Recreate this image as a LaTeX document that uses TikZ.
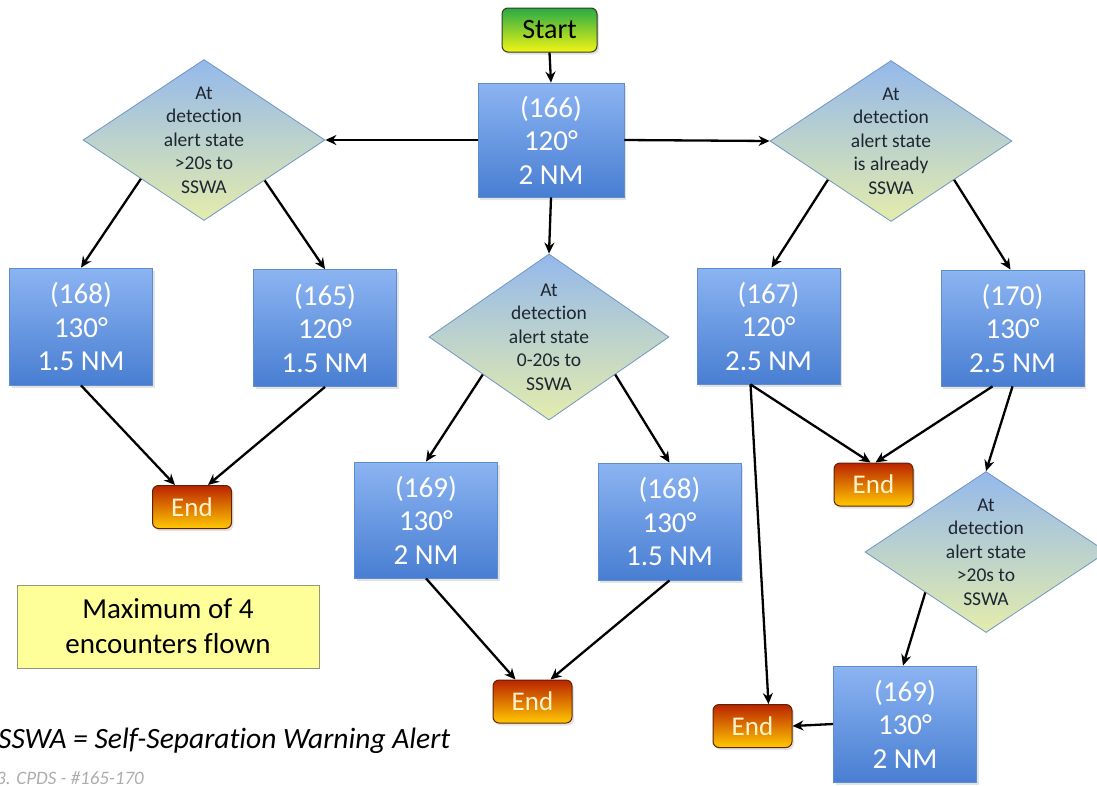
\documentclass[tikz,border=0pt]{standalone}
\usepackage{fontspec}
\setmainfont{Carlito}[Ligatures=NoCommon]
\usetikzlibrary{shapes.geometric,arrows.meta,calc,shadows}

\definecolor{boxtop}{RGB}{140,180,242}
\definecolor{boxbot}{RGB}{72,126,210}
\definecolor{boxedge}{RGB}{95,140,205}
\definecolor{diatop}{RGB}{148,184,236}
\definecolor{diabot}{RGB}{228,236,172}
\definecolor{diaedge}{RGB}{112,150,198}
\definecolor{endtop}{RGB}{186,36,0}
\definecolor{endbot}{RGB}{255,200,0}
\definecolor{endedge}{RGB}{95,35,5}
\definecolor{endtext}{RGB}{255,242,205}
\definecolor{starttop}{RGB}{40,170,70}
\definecolor{startbot}{RGB}{240,245,20}
\definecolor{startedge}{RGB}{50,60,30}
\definecolor{notefill}{RGB}{255,255,153}
\definecolor{notedge}{RGB}{150,150,120}
\definecolor{diatext}{RGB}{30,38,50}

\tikzset{
  bluebox/.style={rectangle, minimum width=143pt, minimum height=116pt, inner sep=0pt,
    top color=boxtop, bottom color=boxbot, draw=boxedge, line width=0.8pt,
    text=white, align=center, font=\fontsize{29}{33.5}\selectfont,
    drop shadow={opacity=0.22, shadow xshift=2pt, shadow yshift=-2.5pt}},
  decision/.style={diamond, minimum width=242pt, minimum height=161pt, inner sep=0pt,
    top color=diatop, bottom color=diabot, draw=diaedge, line width=0.8pt},
  decisiontext/.style={align=center, text=diatext, inner sep=0pt,
    font=\fontsize{19.5}{23.5}\selectfont},
  endbox/.style={rectangle, rounded corners=6pt, minimum width=79pt, minimum height=43pt,
    inner sep=0pt, top color=endtop, bottom color=endbot, draw=endedge, line width=1pt,
    text=endtext, font=\fontsize{27}{30}\selectfont,
    drop shadow={opacity=0.22, shadow xshift=2pt, shadow yshift=-2.5pt}},
  startbox/.style={rectangle, rounded corners=6pt, minimum width=95pt, minimum height=44pt,
    inner sep=0pt, top color=starttop, bottom color=startbot, draw=startedge, line width=1pt,
    text=black, font=\fontsize{28}{30}\selectfont,
    drop shadow={opacity=0.22, shadow xshift=2pt, shadow yshift=-2.5pt}},
  notebox/.style={rectangle, minimum width=302pt, minimum height=83pt, inner sep=0pt,
    fill=notefill, draw=notedge, line width=0.8pt, align=center,
    font=\fontsize{29}{35}\selectfont},
  arr/.style={-{Stealth[length=11pt,width=10pt]}, line width=2.3pt, black}
}

\begin{document}
\begin{tikzpicture}[x=1pt,y=-1pt]
\useasboundingbox (0,0) rectangle (1097,785);

% start and first setting
\node[startbox] (start) at (549.5,30) {Start};
\node[bluebox, minimum width=146pt, minimum height=114pt] (b166) at (551,140) {(166)\\120°\\2 NM};

% decisions
\node[decision] (d1) at (204,140) {};
\node[decisiontext] at (d1) {At\\detection\\alert state\\>20s to\\SSWA};
\node[decision, minimum width=240pt, minimum height=166pt] (d2) at (549,337) {};
\node[decisiontext] at (d2) {At\\detection\\alert state\\0-20s to\\SSWA};
\node[decision] (d3) at (891,141) {};
\node[decisiontext] at (d3) {At\\detection\\alert state\\is already\\SSWA};
\node[decision] (d4) at (986,552) {};
\node[decisiontext] at (d4) {At\\detection\\alert state\\>20s to\\SSWA};

% encounter settings
\node[bluebox, minimum height=117pt] (b168a) at (81,326.5) {(168)\\130°\\1.5 NM};
\node[bluebox, minimum height=117pt] (b165) at (325,328) {(165)\\120°\\1.5 NM};
\node[bluebox] (b169a) at (426,520) {(169)\\130°\\2 NM};
\node[bluebox, minimum height=117pt] (b168b) at (669.5,521.5) {(168)\\130°\\1.5 NM};
\node[bluebox] (b167) at (768.5,326) {(167)\\120°\\2.5 NM};
\node[bluebox] (b170) at (1012.5,328) {(170)\\130°\\2.5 NM};
\node[bluebox] (b169b) at (905,724) {(169)\\130°\\2 NM};

% terminals
\node[endbox] (e1) at (192,507) {End};
\node[endbox] (e2) at (532.5,701.5) {End};
\node[endbox] (e3) at (873.5,484.5) {End};
\node[endbox] (e4) at (752.5,726) {End};

% note and legend
\node[notebox] (note) at (168,626.5) {Maximum of 4\\encounters flown};
\node[anchor=base west, inner sep=0pt, font=\fontsize{29.5}{31}\selectfont\itshape] (legend) at (-2,748)
  {SSWA = Self-Separation Warning Alert};
\node[anchor=base west, inner sep=0pt, text=black!32, font=\fontsize{19}{20}\selectfont\itshape] (ref) at (-4,784)
  {3. CPDS - \#165-170};

% connectors
\draw[arr] (start.south) -- (b166.north);
\draw[arr] (b166.west) -- (d1.east);
\draw[arr] (b166.east) -- (d3.west);
\draw[arr] (b166.south) -- (d2.north);

\draw[arr] ($(d1.west)!0.48!(d1.south)$) -- (b168a.north);
\draw[arr] ($(d1.east)!0.5!(d1.south)$) -- (b165.north);
\draw[arr] ($(d2.west)!0.45!(d2.south)$) -- (b169a.north);
\draw[arr] ($(d2.east)!0.45!(d2.south)$) -- (b168b.north);
\draw[arr] ($(d3.west)!0.48!(d3.south)$) -- ([xshift=3pt]b167.north);
\draw[arr] ($(d3.east)!0.48!(d3.south)$) -- ([xshift=-2pt]b170.north);
\draw[arr] ($(d4.west)!0.5!(d4.south)$) -- ([xshift=-2pt]b169b.north);

\draw[arr] (b168a.south) -- ([xshift=-17pt]e1.north);
\draw[arr] (b165.south) -- ([xshift=16pt]e1.north);
\draw[arr] (b169a.south) -- ([xshift=-17pt]e2.north);
\draw[arr] (b168b.south) -- ([xshift=18pt]e2.north);
\draw[arr] ([xshift=-18pt]b167.south) -- ([xshift=-3pt]e3.north);
\draw[arr] ([xshift=-18pt]b167.south) -- ([xshift=16pt]e4.north);
\draw[arr] ([xshift=-20pt]b170.south) -- ([xshift=2pt]e3.north);
\draw[arr] (b170.south) -- (d4.north);
\draw[arr] (b169b.west) -- (e4.east);
\end{tikzpicture}
\end{document}
